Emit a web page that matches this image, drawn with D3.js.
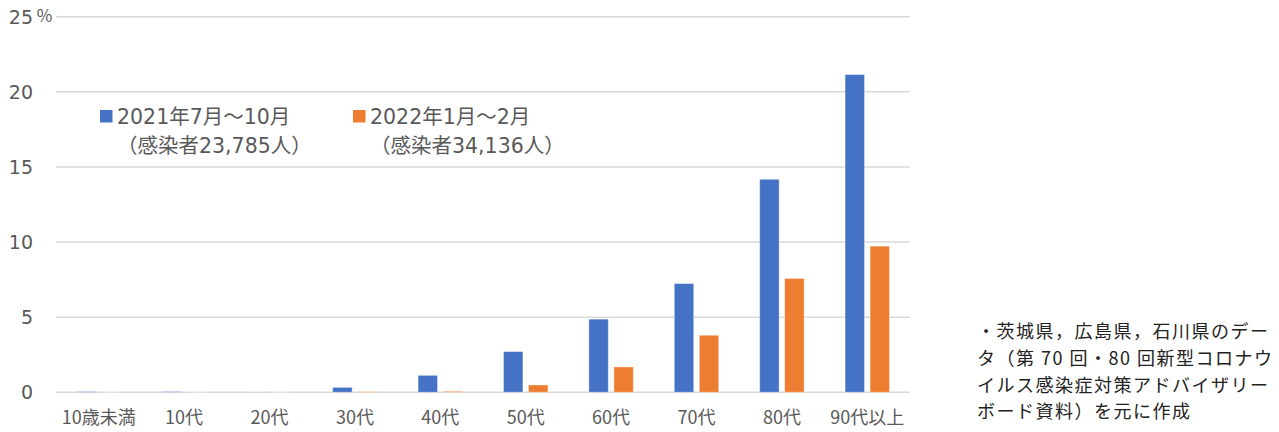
<!DOCTYPE html>
<html><head><meta charset="utf-8">
<script src="https://cdn.jsdelivr.net/npm/d3@7"></script>
<style>
html,body{margin:0;padding:0;background:#fff;}
svg{display:block;font-family:"Noto Sans CJK JP","Noto Sans",sans-serif;}
.wide{font-family:"DejaVu Sans","Noto Sans CJK JP",sans-serif;}
</style></head>
<body>
<svg id="c" width="1279" height="432"></svg>
<script>
const categories = ["10歳未満","10代","20代","30代","40代","50代","60代","70代","80代","90代以上"];
const seriesNames = ["2021年7月～10月","2022年1月～2月"];
const seriesSub = ["（感染者23,785人）","（感染者34,136人）"];
const series2021 = [0.05,0.05,0.01,0.33,1.13,2.71,4.87,7.24,14.18,21.15];
const series2022 = [0.01,0.01,0.01,0.04,0.07,0.49,1.69,3.80,7.58,9.73];
const yTicks = [0,5,10,15,20,25];
const noteLines = ["・茨城県，広島県，石川県のデー","タ（第 70 回・80 回新型コロナウ","イルス感染症対策アドバイザリー","ボード資料）を元に作成"];
const colors = ["#4472C4","#ED7D31"];

const svg = d3.select("#c");
const x = d3.scaleBand().domain(categories).range([56,910]).padding(0);
const y = d3.scaleLinear().domain([0,25]).range([392.3,16.7]);
const bw = x.bandwidth();
const x1 = d3.scaleBand().domain(seriesNames).range([bw/2-22.25,bw/2+22.25]).paddingInner(0.22);

// gridlines
svg.append("g").selectAll("line").data(yTicks).join("line")
  .attr("x1",56).attr("x2",910)
  .attr("y1",d=>y(d)).attr("y2",d=>y(d))
  .attr("stroke","#d9d9d9").attr("stroke-width",1.5);

// y labels
svg.append("g").attr("class","wide").selectAll("text").data(yTicks).join("text")
  .attr("x",33).attr("y",d=>y(d)).attr("dy","0.36em")
  .attr("text-anchor","end").attr("font-size",19).attr("fill","#595959")
  .text(d=>d);
svg.append("text").attr("x",36).attr("y",y(25)-1).attr("dy","0.35em")
  .attr("font-size",17).attr("fill","#595959").text("％");

// bars
const data = [series2021, series2022];
const g = svg.append("g");
categories.forEach((c,i)=>{
  seriesNames.forEach((s,j)=>{
    const v = data[j][i];
    g.append("rect")
      .attr("x",x(c)+x1(s)).attr("width",x1.bandwidth())
      .attr("y",y(v)).attr("height",y(0)-y(v))
      .attr("fill",colors[j])
      .attr("stroke","#fff").attr("stroke-opacity",0.45).attr("stroke-width",1);
  });
});

// x labels
svg.append("g").selectAll("text").data(categories).join("text")
  .attr("x",d=>x(d)+bw/2).attr("y",418).attr("dy","0.35em")
  .attr("text-anchor","middle").attr("font-size",18).attr("fill","#595959")
  .text(d=>d);

// legend
const legX = [100,353];
seriesNames.forEach((s,j)=>{
  svg.append("rect").attr("x",legX[j]).attr("y",110).attr("width",12.5).attr("height",12.5).attr("fill",colors[j]);
  svg.append("text").attr("class","wide").attr("x",legX[j]+17).attr("y",116.5).attr("dy","0.35em")
    .attr("font-size",20.5).attr("fill","#595959").text(s);
  svg.append("text").attr("class","wide").attr("x",legX[j]+17).attr("y",145.5).attr("dy","0.35em")
    .attr("font-size",20.5).attr("fill","#595959").text(seriesSub[j]);
});

// note
svg.append("g").selectAll("text").data(noteLines).join("text")
  .attr("x",977).attr("y",(d,i)=>332+i*26.7).attr("dy","0.35em")
  .attr("font-size",18).attr("letter-spacing","1.5px").attr("fill","#222")
  .text(d=>d);
</script>
</body></html>
